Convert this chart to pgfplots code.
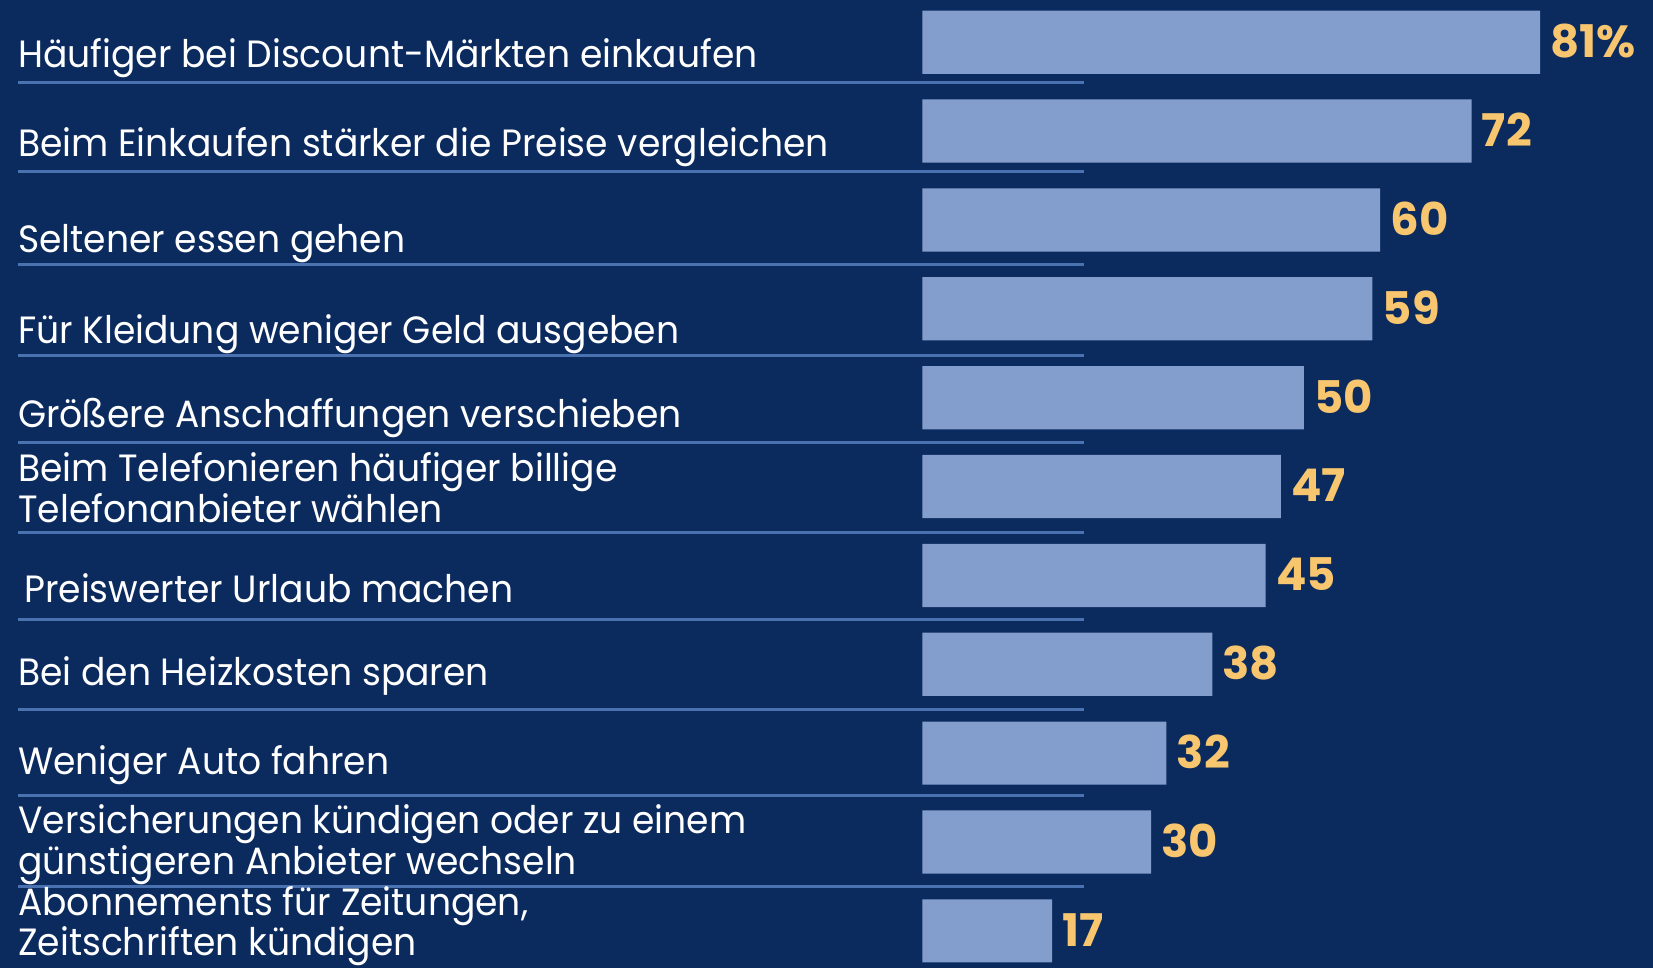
\documentclass[border=0pt]{standalone}
\usepackage{pgfplots}
\pgfplotsset{compat=1.18}
\usepackage{fontspec}
\setmainfont{Poppins}
\newfontfamily\labfont[FakeStretch=0.95]{Poppins}
\definecolor{bg}{RGB}{11,42,94}
\definecolor{barc}{RGB}{131,158,204}
\definecolor{valc}{RGB}{247,198,110}
\definecolor{sepc}{RGB}{74,114,176}
\newcommand{\lab}{\labfont\fontsize{19}{22}\selectfont\color{white}}
\begin{document}
\begin{tikzpicture}
\useasboundingbox (0,0) rectangle (826.5pt,484pt);
\fill[bg] (0,0) rectangle (826.5pt,484pt);
\begin{axis}[
  scale only axis, width=826.5pt, height=484pt,
  xmin=-120.94, xmax=95.79, ymin=-0.475, ymax=10.418,
  y dir=reverse, hide axis, clip=false,
  xbar, bar width=31.6pt,
  point meta=explicit symbolic,
  nodes near coords,
  every node near coord/.append style={anchor=west, inner sep=0pt, xshift=5pt, yshift=0.5pt,
     font=\fontsize{22.5}{24}\bfseries\selectfont, text=valc},
]
\addplot[fill=barc, draw=none] coordinates {
 (81,0) [81\%] (72,1) [72] (60,2) [60] (59,3) [59] (50,4) [50] (47,5) [47]
 (45,6) [45] (38,7) [38] (32,8) [32] (30,9) [30] (17,10) [17]};
\foreach \yy in {0.45,1.458,2.503,3.523,4.508,5.516,6.5,7.509,8.481,9.502}{
  \edef\tmp{\noexpand\draw[sepc, line width=1.5pt] (axis cs:-118.6,\yy) -- (axis cs:21.15,\yy);}
  \tmp
}
\node[anchor=base west, inner sep=0pt] at (axis cs:-118.6,0.284) {\lab Häufiger bei Discount-Märkten einkaufen};
\node[anchor=base west, inner sep=0pt] at (axis cs:-118.6,1.281) {\lab Beim Einkaufen stärker die Preise vergleichen};
\node[anchor=base west, inner sep=0pt] at (axis cs:-118.6,2.372) {\lab Seltener essen gehen};
\node[anchor=base west, inner sep=0pt] at (axis cs:-118.6,3.392) {\lab Für Kleidung weniger Geld ausgeben};
\node[anchor=base west, inner sep=0pt] at (axis cs:-118.6,4.341) {\lab Größere Anschaffungen verschieben};
\node[anchor=base west, inner sep=0pt] at (axis cs:-118.6,4.946) {\lab Beim Telefonieren häufiger billige};
\node[anchor=base west, inner sep=0pt] at (axis cs:-118.6,5.407) {\lab Telefonanbieter wählen};
\node[anchor=base west, inner sep=0pt] at (axis cs:-117.8,6.310) {\lab Preiswerter Urlaub machen};
\node[anchor=base west, inner sep=0pt] at (axis cs:-118.6,7.235) {\lab Bei den Heizkosten sparen};
\node[anchor=base west, inner sep=0pt] at (axis cs:-118.6,8.244) {\lab Weniger Auto fahren};
\node[anchor=base west, inner sep=0pt] at (axis cs:-118.6,8.908) {\lab Versicherungen kündigen oder zu einem};
\node[anchor=base west, inner sep=0pt] at (axis cs:-118.6,9.369) {\lab günstigeren Anbieter wechseln};
\node[anchor=base west, inner sep=0pt] at (axis cs:-118.6,9.830) {\lab Abonnements für Zeitungen,};
\node[anchor=base west, inner sep=0pt] at (axis cs:-118.6,10.280) {\lab Zeitschriften kündigen};
\end{axis}
\end{tikzpicture}
\end{document}
